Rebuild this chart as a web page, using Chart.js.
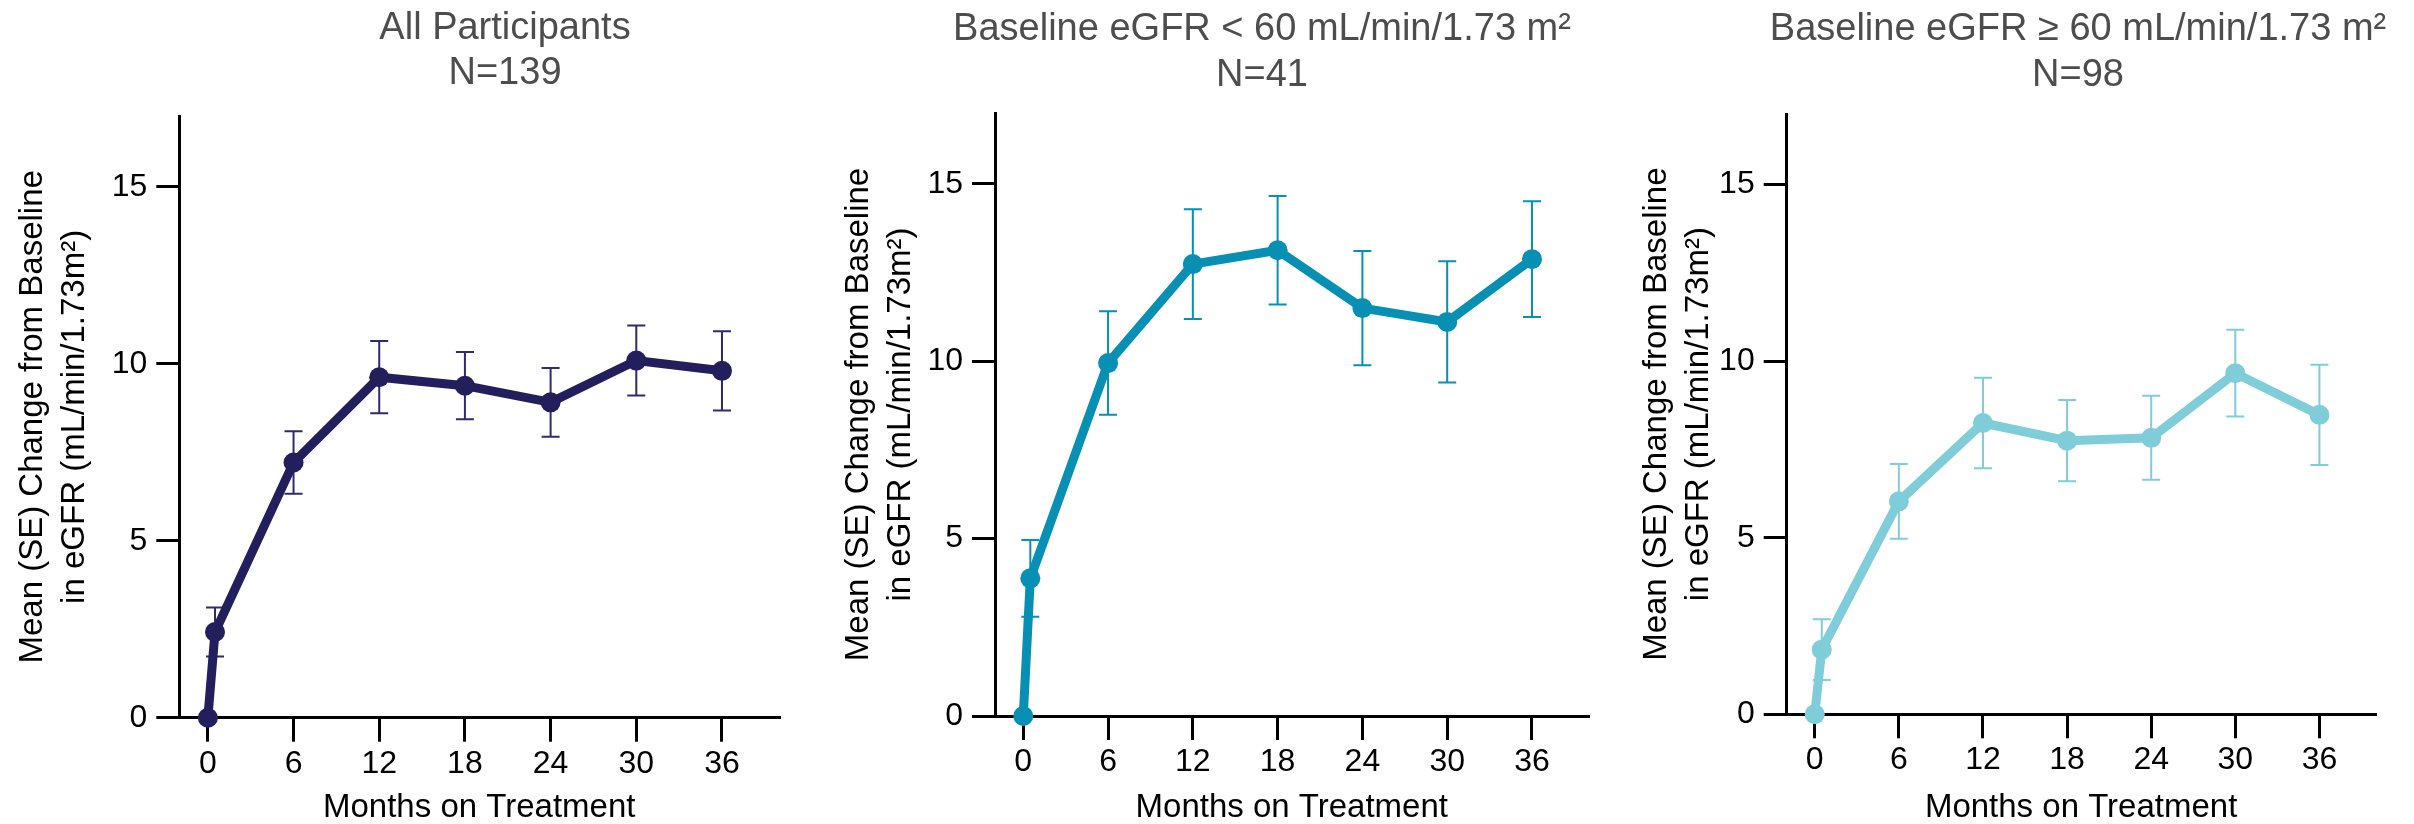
<!DOCTYPE html>
<html><head><meta charset="utf-8">
<script src="https://cdn.jsdelivr.net/npm/chart.js@4.4.1/dist/chart.umd.min.js"></script>
<style>
html,body{margin:0;padding:0;background:#fff;width:2414px;height:824px;overflow:hidden;}
canvas{position:absolute;top:0;}
</style></head><body>
<canvas id="c1"></canvas><canvas id="c2"></canvas><canvas id="c3"></canvas>
<script>
// ---- data ----
const months = [0, 0.5, 6, 12, 18, 24, 30, 36];
const xTicks = [0, 6, 12, 18, 24, 30, 36];
const yTicks = [0, 5, 10, 15];
const allMean  = [0, 2.42, 7.21, 9.62, 9.38, 8.91, 10.09, 9.80];
const allSE    = [0, 0.69, 0.88, 1.02, 0.95, 0.97, 0.99, 1.12];
const lowMean  = [0, 3.88, 9.95, 12.74, 13.13, 11.50, 11.11, 12.88];
const lowSE    = [0, 1.08, 1.46, 1.55, 1.53, 1.61, 1.71, 1.63];
const highMean = [0, 1.83, 6.03, 8.25, 7.75, 7.83, 9.66, 8.48];
const highSE   = [0, 0.86, 1.06, 1.28, 1.15, 1.19, 1.23, 1.42];
const panelTitles = [
  ["All Participants", "N=139"],
  ["Baseline eGFR < 60 mL/min/1.73 m\u00B2", "N=41"],
  ["Baseline eGFR \u2265 60 mL/min/1.73 m\u00B2", "N=98"]
];
const yTitle = ["Mean (SE) Change from Baseline", "in eGFR (mL/min/1.73m\u00B2)"];
const xTitle = "Months on Treatment";

// ---- layout / style ----
const FONT = '"Liberation Sans", Arial, Helvetica, sans-serif';
const H = 824;
const panels = [
  {id:'c1', mean: allMean, se: allSE, color:'#231f5c', errColor:'#2f2b6c', title: panelTitles[0],
   left:0, width:790, axisX:179.3, right:779.1, top:116, bottom:717.7, titleX:505, titleY:[39, 83.5]},
  {id:'c2', mean: lowMean, se: lowSE, color:'#0790b3', errColor:'#0790b3', title: panelTitles[1],
   left:826, width:774, axisX:995, right:1588.5, top:113, bottom:716, titleX:1262, titleY:[40, 85.5]},
  {id:'c3', mean: highMean, se: highSE, color:'#7ecdd8', errColor:'#7ecdd8', title: panelTitles[2],
   left:1624, width:790, axisX:1786.7, right:2375.5, top:114, bottom:714.3, titleX:2078, titleY:[40, 85.5]}
];

const errorBars = {
  id: 'errorBars',
  beforeDatasetsDraw(chart) {
    const {ctx, scales: {x, y}} = chart;
    chart.data.datasets.forEach(ds => {
      if (!ds.errors) return;
      ctx.save();
      ctx.strokeStyle = ds.errColor || ds.borderColor;
      ctx.lineWidth = 2;
      ds.data.forEach((pt, i) => {
        const e = ds.errors[i];
        if (!e) return;
        const px = x.getPixelForValue(pt.x);
        const yt = y.getPixelForValue(pt.y + e);
        const yb = y.getPixelForValue(pt.y - e);
        ctx.beginPath();
        ctx.moveTo(px, yt); ctx.lineTo(px, yb);
        ctx.moveTo(px - 9, yt); ctx.lineTo(px + 9, yt);
        ctx.moveTo(px - 9, yb); ctx.lineTo(px + 9, yb);
        ctx.stroke();
      });
      ctx.restore();
    });
  }
};

const panelTitle = {
  id: 'panelTitle',
  afterDraw(chart, args, opts) {
    const ctx = chart.ctx;
    ctx.save();
    ctx.fillStyle = opts.color;
    ctx.font = opts.font;
    ctx.textAlign = 'center';
    ctx.textBaseline = 'alphabetic';
    opts.lines.forEach((t, i) => ctx.fillText(t, opts.x, opts.y[i]));
    ctx.restore();
  }
};

panels.forEach(p => {
  const cv = document.getElementById(p.id);
  cv.width = p.width; cv.height = H;
  cv.style.left = p.left + 'px';
  cv.style.width = p.width + 'px'; cv.style.height = H + 'px';
  new Chart(cv, {
    type: 'line',
    data: {
      datasets: [{
        data: months.map((m, i) => ({x: m, y: p.mean[i]})),
        errors: p.se,
        errColor: p.errColor,
        borderColor: p.color,
        backgroundColor: p.color,
        pointBackgroundColor: p.color,
        pointBorderWidth: 0,
        pointRadius: 10,
        borderWidth: 9,
        tension: 0,
        clip: false
      }]
    },
    options: {
      responsive: false,
      animation: false,
      events: [],
      layout: {padding: {left: 0, top: p.top, right: (p.left + p.width) - p.right, bottom: 0}},
      plugins: {
        legend: {display: false},
        tooltip: {enabled: false},
        title: {display: false},
        panelTitle: {lines: p.title, x: p.titleX - p.left, y: p.titleY, color: '#4d4d4d', font: '38px ' + FONT}
      },
      scales: {
        x: {
          type: 'linear', min: -2, max: 40,
          afterBuildTicks: s => { s.ticks = xTicks.map(v => ({value: v})); },
          afterFit: s => { s.height = H - p.bottom; },
          border: {display: true, color: '#000', width: 3},
          grid: {display: true, drawOnChartArea: false, drawTicks: true, tickLength: 24, lineWidth: 3, color: '#000'},
          ticks: {color: '#000', font: {family: FONT, size: 32}, padding: 3, maxRotation: 0, autoSkip: false},
          title: {display: true, text: xTitle, color: '#000', font: {family: FONT, size: 33, lineHeight: 1.0}, padding: 0}
        },
        y: {
          type: 'linear', min: 0, max: 17,
          afterBuildTicks: s => { s.ticks = yTicks.map(v => ({value: v})); },
          afterFit: s => { s.width = p.axisX - p.left; },
          border: {display: true, color: '#000', width: 3},
          grid: {display: true, drawOnChartArea: false, drawTicks: true, tickLength: 23, lineWidth: 3, color: '#000'},
          ticks: {color: '#000', font: {family: FONT, size: 32}, padding: 9},
          title: {display: true, text: yTitle, color: '#000', font: {family: FONT, size: 33, lineHeight: 1.3}, padding: {top: 11, bottom: 0}}
        }
      }
    },
    plugins: [errorBars, panelTitle]
  });
});
</script>
</body></html>
